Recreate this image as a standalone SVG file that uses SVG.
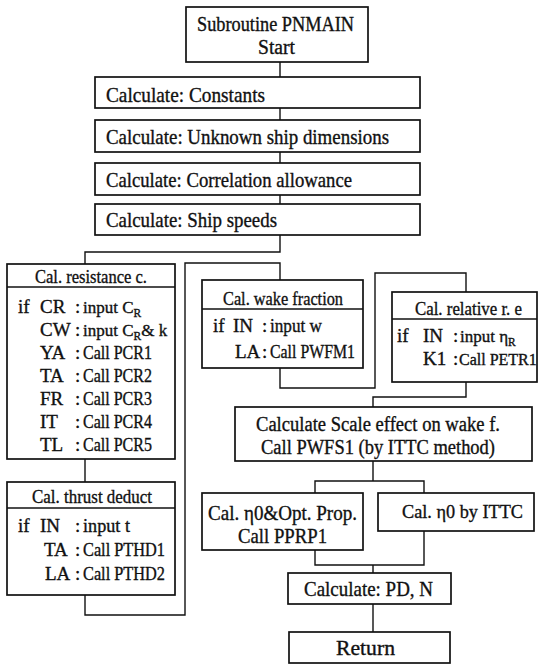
<svg xmlns="http://www.w3.org/2000/svg" width="539" height="665" viewBox="0 0 539 665">
<style>
rect{fill:#fff;stroke:#111;stroke-width:1.7}
.dv{stroke:#111;stroke-width:1.4}
.c{fill:none;stroke:#111;stroke-width:1.4}
text{fill:#111;stroke:#111;stroke-width:0.35}
.b{font-size:21px}
.t{font-size:19px}
.m{font-size:17px}
.s{font-size:11.5px}
</style>
<rect width="539" height="665" style="fill:#fff;stroke:none"/>
<g id="connectors" class="c">
<path d="M280,62V77M280,108V120M280,152V163M280,195V204"/>
<path d="M280,235V252H85V264"/>
<path d="M85,459V482"/>
<path d="M85,595V615H185V263H280V280"/>
<path d="M280,368V388H375V273H466V292"/>
<path d="M466,382V397H373V407"/>
<path d="M373,461V481M315,493V481H424V493"/>
<path d="M315,550V565H424V531M373,565V573"/>
<path d="M373,604V632"/>
</g>
<g font-family="'Liberation Serif', 'Times New Roman', 'DejaVu Serif', serif">
<g id="start"><rect x="186" y="7" width="182" height="55"/>
<text x="197" y="31" font-size="20.5" textLength="157" lengthAdjust="spacingAndGlyphs">Subroutine PNMAIN</text>
<text x="258" y="54" font-size="20.5" textLength="37" lengthAdjust="spacingAndGlyphs">Start</text></g>
<g id="constants"><rect x="95" y="77" width="325" height="31"/>
<text class="b" x="106" y="102" textLength="159" lengthAdjust="spacingAndGlyphs">Calculate: Constants</text></g>
<g id="unknown"><rect x="95" y="120" width="325" height="32"/>
<text class="b" x="106" y="144" textLength="283" lengthAdjust="spacingAndGlyphs">Calculate: Unknown ship dimensions</text></g>
<g id="correlation"><rect x="95" y="163" width="325" height="32"/>
<text class="b" x="106" y="187" textLength="246" lengthAdjust="spacingAndGlyphs">Calculate: Correlation allowance</text></g>
<g id="speeds"><rect x="95" y="204" width="325" height="31"/>
<text class="b" x="106" y="227" textLength="171" lengthAdjust="spacingAndGlyphs">Calculate: Ship speeds</text></g>
<g id="resistance"><rect x="7" y="264" width="168" height="195"/>
<line class="dv" x1="7" y1="287" x2="175" y2="287"/>
<g class="t">
<text x="35" y="283" textLength="112" lengthAdjust="spacingAndGlyphs">Cal. resistance c.</text>
<text x="18" y="313">if</text>
<text x="40" y="313">CR</text><text x="75" y="313">:</text>
<text class="m" x="83" y="313">input C<tspan class="s" dy="4">R</tspan></text>
<text x="40" y="336">CW</text><text x="75" y="336">:</text>
<text class="m" x="83" y="336">input C<tspan class="s" dy="4">R</tspan><tspan dy="-4">&amp; k</tspan></text>
<text x="40" y="359">YA</text><text x="75" y="359">:</text><text x="83" y="359" textLength="69" lengthAdjust="spacingAndGlyphs">Call PCR1</text>
<text x="40" y="382">TA</text><text x="75" y="382">:</text><text x="83" y="382" textLength="69" lengthAdjust="spacingAndGlyphs">Call PCR2</text>
<text x="40" y="405">FR</text><text x="75" y="405">:</text><text x="83" y="405" textLength="69" lengthAdjust="spacingAndGlyphs">Call PCR3</text>
<text x="40" y="428">IT</text><text x="75" y="428">:</text><text x="83" y="428" textLength="69" lengthAdjust="spacingAndGlyphs">Call PCR4</text>
<text x="40" y="451">TL</text><text x="75" y="451">:</text><text x="83" y="451" textLength="69" lengthAdjust="spacingAndGlyphs">Call PCR5</text>
</g></g>
<g id="thrust"><rect x="7" y="482" width="168" height="113"/>
<line class="dv" x1="7" y1="508" x2="175" y2="508"/>
<g class="t">
<text x="32" y="503" textLength="120" lengthAdjust="spacingAndGlyphs">Cal. thrust deduct</text>
<text x="18" y="532">if</text>
<text x="40" y="532">IN</text><text x="75" y="532">:</text><text x="83" y="532" textLength="47" lengthAdjust="spacingAndGlyphs">input t</text>
<text x="44" y="556">TA</text><text x="75" y="556">:</text><text x="83" y="556" textLength="82" lengthAdjust="spacingAndGlyphs">Call PTHD1</text>
<text x="45" y="580">LA</text><text x="75" y="580">:</text><text x="83" y="580" textLength="82" lengthAdjust="spacingAndGlyphs">Call PTHD2</text>
</g></g>
<g id="wake"><rect x="202" y="280" width="161" height="88"/>
<line class="dv" x1="202" y1="309" x2="363" y2="309"/>
<g class="t">
<text x="223" y="305" textLength="120" lengthAdjust="spacingAndGlyphs">Cal. wake fraction</text>
<text x="213" y="332">if</text>
<text x="233" y="332">IN</text><text x="262" y="332">:</text><text x="270" y="332" textLength="52" lengthAdjust="spacingAndGlyphs">input w</text>
<text x="235" y="358">LA</text><text x="262" y="358">:</text><text x="270" y="358" textLength="85" lengthAdjust="spacingAndGlyphs">Call PWFM1</text>
</g></g>
<g id="relative"><rect x="392" y="292" width="145" height="90"/>
<line class="dv" x1="392" y1="319" x2="537" y2="319"/>
<g class="t">
<text x="415" y="315" textLength="107" lengthAdjust="spacingAndGlyphs">Cal. relative r. e</text>
<text x="397" y="342">if</text>
<text x="423" y="342">IN</text><text x="453" y="342">:</text><text class="m" x="460" y="342">input η<tspan class="s" dy="4">R</tspan></text>
<text x="423" y="365">K1</text><text x="453" y="365">:</text><text x="459" y="365" font-size="16">Call PETR1</text>
</g></g>
<g id="scale"><rect x="235" y="407" width="297" height="54"/>
<text x="256" y="431" font-size="20.5" textLength="244" lengthAdjust="spacingAndGlyphs">Calculate Scale effect on wake f.</text>
<text x="261" y="454" font-size="20.5" textLength="234" lengthAdjust="spacingAndGlyphs">Call PWFS1 (by ITTC method)</text></g>
<g id="opt"><rect x="202" y="493" width="161" height="57"/>
<text class="b" x="208" y="520" textLength="149" lengthAdjust="spacingAndGlyphs">Cal. η0&amp;Opt. Prop.</text>
<text class="b" x="238" y="543" textLength="89" lengthAdjust="spacingAndGlyphs">Call PPRP1</text></g>
<g id="ittc"><rect x="378" y="493" width="156" height="38"/>
<text x="402" y="518" font-size="19.5" textLength="121" lengthAdjust="spacingAndGlyphs">Cal. η0 by ITTC</text></g>
<g id="pdn"><rect x="288" y="573" width="163" height="31"/>
<text class="b" x="304" y="596" textLength="129" lengthAdjust="spacingAndGlyphs">Calculate: PD, N</text></g>
<g id="return"><rect x="289" y="632" width="161" height="31"/>
<text class="b" x="336" y="655" textLength="59" lengthAdjust="spacingAndGlyphs">Return</text></g>
</g>
</svg>
